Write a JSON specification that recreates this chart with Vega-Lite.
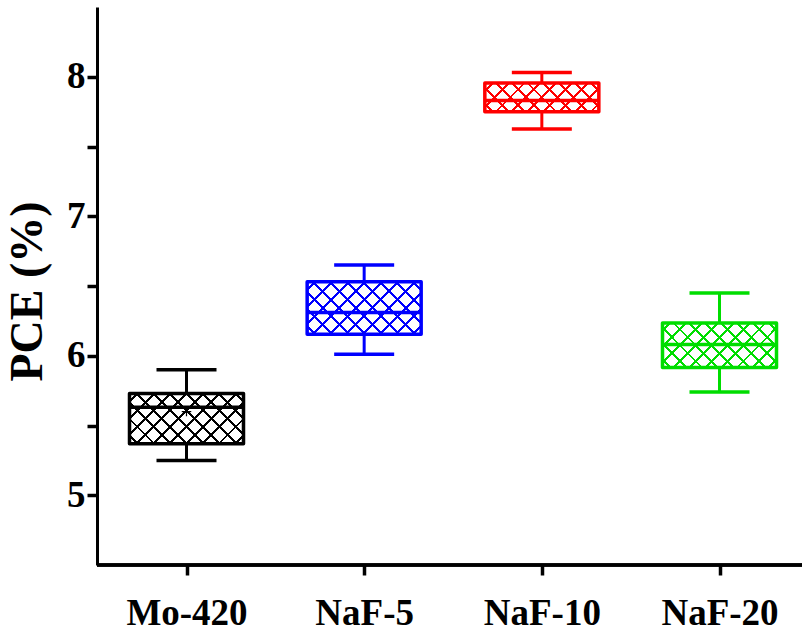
{
  "$schema": "https://vega.github.io/schema/vega-lite/v6.json",
  "width": 705,
  "height": 558,
  "autosize": {"type": "none"},
  "padding": {"left": 97, "top": 7, "right": 0, "bottom": 70},
  "background": "white",
  "config": {"view": {"stroke": null}, "font": "Liberation Serif"},
  "data": {"values": [
    {"cat": "Mo-420", "min": 5.25, "q1": 5.37, "median": 5.63, "q3": 5.73, "max": 5.9, "mean": 5.6},
    {"cat": "NaF-5", "min": 6.01, "q1": 6.155, "median": 6.31, "q3": 6.53, "max": 6.65},
    {"cat": "NaF-10", "min": 7.625, "q1": 7.75, "median": 7.83, "q3": 7.955, "max": 8.03},
    {"cat": "NaF-20", "min": 5.74, "q1": 5.915, "median": 6.08, "q3": 6.235, "max": 6.45}
  ]},
  "layer": [
    {
      "mark": {"type": "rule", "strokeWidth": 3, "opacity": 1},
      "encoding": {
        "x": {"field": "cat", "type": "nominal", "sort": null,
          "scale": {"type": "point", "domain": ["Mo-420", "NaF-5", "NaF-10", "NaF-20"], "range": [89.5, 622.5], "padding": 0},
          "axis": {"title": null, "domain": false, "grid": false, "labelAngle": 0, "labelFont": "Liberation Serif", "labelFontWeight": "bold", "labelFontSize": 37, "labelColor": "black", "labelBaseline": "alphabetic", "labelPadding": 49, "labelAlign": "center", "tickSize": 10, "tickWidth": 3.5, "tickColor": "black"}},
        "y": {"field": "min", "type": "quantitative",
          "scale": {"domain": [4.5, 8.5], "nice": false, "zero": false},
          "axis": {"title": "PCE (%)", "values": [5, 5.5, 6, 6.5, 7, 7.5, 8], "labelExpr": "datum.value % 1 ? '' : format(datum.value, 'd')", "grid": false, "domainWidth": 3, "domainColor": "black", "tickSize": 10, "tickWidth": 3.5, "tickColor": "black", "labelFont": "Liberation Serif", "labelFontWeight": "bold", "labelFontSize": 37, "labelColor": "black", "labelPadding": 2, "labelBaseline": "middle", "labelOverlap": false, "titleFont": "Liberation Serif", "titleFontWeight": "bold", "titleFontSize": 46, "titleColor": "black", "titleAngle": -90, "titleX": -70, "titleY": 284, "titleAlign": "center", "titleBaseline": "middle"}},
        "y2": {"field": "max"},
        "color": {"field": "cat", "type": "nominal", "scale": {"domain": ["Mo-420", "NaF-5", "NaF-10", "NaF-20"], "range": ["#000000", "#0000ff", "#ff0000", "#00dd00"]}, "legend": null}
      }
    },
    {
      "mark": {"type": "tick", "size": 60, "thickness": 3.5, "orient": "horizontal", "opacity": 1},
      "encoding": {
        "x": {"field": "cat", "type": "nominal", "sort": null},
        "y": {"field": "min", "type": "quantitative"},
        "color": {"field": "cat", "type": "nominal", "legend": null}
      }
    },
    {
      "mark": {"type": "tick", "size": 60, "thickness": 3.5, "orient": "horizontal", "opacity": 1},
      "encoding": {
        "x": {"field": "cat", "type": "nominal", "sort": null},
        "y": {"field": "max", "type": "quantitative"},
        "color": {"field": "cat", "type": "nominal", "legend": null}
      }
    },
    {
      "mark": {"type": "bar", "size": 114, "fill": "white", "orient": "vertical", "opacity": 1},
      "encoding": {
        "x": {"field": "cat", "type": "nominal", "sort": null},
        "y": {"field": "q1", "type": "quantitative"},
        "y2": {"field": "q3"}
      }
    },
    {
      "transform": [{"filter": "datum.cat === 'Mo-420'"}],
      "mark": {"type": "bar", "size": 114, "orient": "vertical", "opacity": 1, "fill": {"gradient": "linear", "x1": 0, "y1": 0, "x2": 1.2064, "y2": 0.5312, "stops": [
        {"offset": 0.041, "color": "rgba(255,255,255,0)"}, {"offset": 0.041, "color": "#000000"}, {"offset": 0.059, "color": "#000000"}, {"offset": 0.059, "color": "rgba(255,255,255,0)"},
        {"offset": 0.141, "color": "rgba(255,255,255,0)"}, {"offset": 0.141, "color": "#000000"}, {"offset": 0.159, "color": "#000000"}, {"offset": 0.159, "color": "rgba(255,255,255,0)"},
        {"offset": 0.241, "color": "rgba(255,255,255,0)"}, {"offset": 0.241, "color": "#000000"}, {"offset": 0.259, "color": "#000000"}, {"offset": 0.259, "color": "rgba(255,255,255,0)"},
        {"offset": 0.341, "color": "rgba(255,255,255,0)"}, {"offset": 0.341, "color": "#000000"}, {"offset": 0.359, "color": "#000000"}, {"offset": 0.359, "color": "rgba(255,255,255,0)"},
        {"offset": 0.441, "color": "rgba(255,255,255,0)"}, {"offset": 0.441, "color": "#000000"}, {"offset": 0.459, "color": "#000000"}, {"offset": 0.459, "color": "rgba(255,255,255,0)"},
        {"offset": 0.541, "color": "rgba(255,255,255,0)"}, {"offset": 0.541, "color": "#000000"}, {"offset": 0.559, "color": "#000000"}, {"offset": 0.559, "color": "rgba(255,255,255,0)"},
        {"offset": 0.641, "color": "rgba(255,255,255,0)"}, {"offset": 0.641, "color": "#000000"}, {"offset": 0.659, "color": "#000000"}, {"offset": 0.659, "color": "rgba(255,255,255,0)"},
        {"offset": 0.741, "color": "rgba(255,255,255,0)"}, {"offset": 0.741, "color": "#000000"}, {"offset": 0.759, "color": "#000000"}, {"offset": 0.759, "color": "rgba(255,255,255,0)"},
        {"offset": 0.841, "color": "rgba(255,255,255,0)"}, {"offset": 0.841, "color": "#000000"}, {"offset": 0.859, "color": "#000000"}, {"offset": 0.859, "color": "rgba(255,255,255,0)"},
        {"offset": 0.941, "color": "rgba(255,255,255,0)"}, {"offset": 0.941, "color": "#000000"}, {"offset": 0.959, "color": "#000000"}, {"offset": 0.959, "color": "rgba(255,255,255,0)"}
      ]}},
      "encoding": {
        "x": {"field": "cat", "type": "nominal", "sort": null},
        "y": {"field": "q1", "type": "quantitative"},
        "y2": {"field": "q3"}
      }
    },
    {
      "transform": [{"filter": "datum.cat === 'Mo-420'"}],
      "mark": {"type": "bar", "size": 114, "orient": "vertical", "opacity": 1, "fill": {"gradient": "linear", "x1": 0, "y1": 1, "x2": 1.2064, "y2": 0.4688, "stops": [
        {"offset": 0.041, "color": "rgba(255,255,255,0)"}, {"offset": 0.041, "color": "#000000"}, {"offset": 0.059, "color": "#000000"}, {"offset": 0.059, "color": "rgba(255,255,255,0)"},
        {"offset": 0.141, "color": "rgba(255,255,255,0)"}, {"offset": 0.141, "color": "#000000"}, {"offset": 0.159, "color": "#000000"}, {"offset": 0.159, "color": "rgba(255,255,255,0)"},
        {"offset": 0.241, "color": "rgba(255,255,255,0)"}, {"offset": 0.241, "color": "#000000"}, {"offset": 0.259, "color": "#000000"}, {"offset": 0.259, "color": "rgba(255,255,255,0)"},
        {"offset": 0.341, "color": "rgba(255,255,255,0)"}, {"offset": 0.341, "color": "#000000"}, {"offset": 0.359, "color": "#000000"}, {"offset": 0.359, "color": "rgba(255,255,255,0)"},
        {"offset": 0.441, "color": "rgba(255,255,255,0)"}, {"offset": 0.441, "color": "#000000"}, {"offset": 0.459, "color": "#000000"}, {"offset": 0.459, "color": "rgba(255,255,255,0)"},
        {"offset": 0.541, "color": "rgba(255,255,255,0)"}, {"offset": 0.541, "color": "#000000"}, {"offset": 0.559, "color": "#000000"}, {"offset": 0.559, "color": "rgba(255,255,255,0)"},
        {"offset": 0.641, "color": "rgba(255,255,255,0)"}, {"offset": 0.641, "color": "#000000"}, {"offset": 0.659, "color": "#000000"}, {"offset": 0.659, "color": "rgba(255,255,255,0)"},
        {"offset": 0.741, "color": "rgba(255,255,255,0)"}, {"offset": 0.741, "color": "#000000"}, {"offset": 0.759, "color": "#000000"}, {"offset": 0.759, "color": "rgba(255,255,255,0)"},
        {"offset": 0.841, "color": "rgba(255,255,255,0)"}, {"offset": 0.841, "color": "#000000"}, {"offset": 0.859, "color": "#000000"}, {"offset": 0.859, "color": "rgba(255,255,255,0)"},
        {"offset": 0.941, "color": "rgba(255,255,255,0)"}, {"offset": 0.941, "color": "#000000"}, {"offset": 0.959, "color": "#000000"}, {"offset": 0.959, "color": "rgba(255,255,255,0)"}
      ]}},
      "encoding": {
        "x": {"field": "cat", "type": "nominal", "sort": null},
        "y": {"field": "q1", "type": "quantitative"},
        "y2": {"field": "q3"}
      }
    },
    {
      "transform": [{"filter": "datum.cat === 'NaF-5'"}],
      "mark": {"type": "bar", "size": 114, "orient": "vertical", "opacity": 1, "fill": {"gradient": "linear", "x1": 0, "y1": 0, "x2": 1.2051, "y2": 0.5529, "stops": [
        {"offset": 0.041, "color": "rgba(255,255,255,0)"}, {"offset": 0.041, "color": "#0000ff"}, {"offset": 0.059, "color": "#0000ff"}, {"offset": 0.059, "color": "rgba(255,255,255,0)"},
        {"offset": 0.141, "color": "rgba(255,255,255,0)"}, {"offset": 0.141, "color": "#0000ff"}, {"offset": 0.159, "color": "#0000ff"}, {"offset": 0.159, "color": "rgba(255,255,255,0)"},
        {"offset": 0.241, "color": "rgba(255,255,255,0)"}, {"offset": 0.241, "color": "#0000ff"}, {"offset": 0.259, "color": "#0000ff"}, {"offset": 0.259, "color": "rgba(255,255,255,0)"},
        {"offset": 0.341, "color": "rgba(255,255,255,0)"}, {"offset": 0.341, "color": "#0000ff"}, {"offset": 0.359, "color": "#0000ff"}, {"offset": 0.359, "color": "rgba(255,255,255,0)"},
        {"offset": 0.441, "color": "rgba(255,255,255,0)"}, {"offset": 0.441, "color": "#0000ff"}, {"offset": 0.459, "color": "#0000ff"}, {"offset": 0.459, "color": "rgba(255,255,255,0)"},
        {"offset": 0.541, "color": "rgba(255,255,255,0)"}, {"offset": 0.541, "color": "#0000ff"}, {"offset": 0.559, "color": "#0000ff"}, {"offset": 0.559, "color": "rgba(255,255,255,0)"},
        {"offset": 0.641, "color": "rgba(255,255,255,0)"}, {"offset": 0.641, "color": "#0000ff"}, {"offset": 0.659, "color": "#0000ff"}, {"offset": 0.659, "color": "rgba(255,255,255,0)"},
        {"offset": 0.741, "color": "rgba(255,255,255,0)"}, {"offset": 0.741, "color": "#0000ff"}, {"offset": 0.759, "color": "#0000ff"}, {"offset": 0.759, "color": "rgba(255,255,255,0)"},
        {"offset": 0.841, "color": "rgba(255,255,255,0)"}, {"offset": 0.841, "color": "#0000ff"}, {"offset": 0.859, "color": "#0000ff"}, {"offset": 0.859, "color": "rgba(255,255,255,0)"},
        {"offset": 0.941, "color": "rgba(255,255,255,0)"}, {"offset": 0.941, "color": "#0000ff"}, {"offset": 0.959, "color": "#0000ff"}, {"offset": 0.959, "color": "rgba(255,255,255,0)"}
      ]}},
      "encoding": {
        "x": {"field": "cat", "type": "nominal", "sort": null},
        "y": {"field": "q1", "type": "quantitative"},
        "y2": {"field": "q3"}
      }
    },
    {
      "transform": [{"filter": "datum.cat === 'NaF-5'"}],
      "mark": {"type": "bar", "size": 114, "orient": "vertical", "opacity": 1, "fill": {"gradient": "linear", "x1": 0, "y1": 1, "x2": 1.2051, "y2": 0.4471, "stops": [
        {"offset": 0.041, "color": "rgba(255,255,255,0)"}, {"offset": 0.041, "color": "#0000ff"}, {"offset": 0.059, "color": "#0000ff"}, {"offset": 0.059, "color": "rgba(255,255,255,0)"},
        {"offset": 0.141, "color": "rgba(255,255,255,0)"}, {"offset": 0.141, "color": "#0000ff"}, {"offset": 0.159, "color": "#0000ff"}, {"offset": 0.159, "color": "rgba(255,255,255,0)"},
        {"offset": 0.241, "color": "rgba(255,255,255,0)"}, {"offset": 0.241, "color": "#0000ff"}, {"offset": 0.259, "color": "#0000ff"}, {"offset": 0.259, "color": "rgba(255,255,255,0)"},
        {"offset": 0.341, "color": "rgba(255,255,255,0)"}, {"offset": 0.341, "color": "#0000ff"}, {"offset": 0.359, "color": "#0000ff"}, {"offset": 0.359, "color": "rgba(255,255,255,0)"},
        {"offset": 0.441, "color": "rgba(255,255,255,0)"}, {"offset": 0.441, "color": "#0000ff"}, {"offset": 0.459, "color": "#0000ff"}, {"offset": 0.459, "color": "rgba(255,255,255,0)"},
        {"offset": 0.541, "color": "rgba(255,255,255,0)"}, {"offset": 0.541, "color": "#0000ff"}, {"offset": 0.559, "color": "#0000ff"}, {"offset": 0.559, "color": "rgba(255,255,255,0)"},
        {"offset": 0.641, "color": "rgba(255,255,255,0)"}, {"offset": 0.641, "color": "#0000ff"}, {"offset": 0.659, "color": "#0000ff"}, {"offset": 0.659, "color": "rgba(255,255,255,0)"},
        {"offset": 0.741, "color": "rgba(255,255,255,0)"}, {"offset": 0.741, "color": "#0000ff"}, {"offset": 0.759, "color": "#0000ff"}, {"offset": 0.759, "color": "rgba(255,255,255,0)"},
        {"offset": 0.841, "color": "rgba(255,255,255,0)"}, {"offset": 0.841, "color": "#0000ff"}, {"offset": 0.859, "color": "#0000ff"}, {"offset": 0.859, "color": "rgba(255,255,255,0)"},
        {"offset": 0.941, "color": "rgba(255,255,255,0)"}, {"offset": 0.941, "color": "#0000ff"}, {"offset": 0.959, "color": "#0000ff"}, {"offset": 0.959, "color": "rgba(255,255,255,0)"}
      ]}},
      "encoding": {
        "x": {"field": "cat", "type": "nominal", "sort": null},
        "y": {"field": "q1", "type": "quantitative"},
        "y2": {"field": "q3"}
      }
    },
    {
      "transform": [{"filter": "datum.cat === 'NaF-10'"}],
      "mark": {"type": "bar", "size": 114, "orient": "vertical", "opacity": 1, "fill": {"gradient": "linear", "x1": 0, "y1": 0, "x2": 1.1768, "y2": 0.2952, "stops": [
        {"offset": 0.046, "color": "rgba(255,255,255,0)"}, {"offset": 0.046, "color": "#ff0000"}, {"offset": 0.066, "color": "#ff0000"}, {"offset": 0.066, "color": "rgba(255,255,255,0)"},
        {"offset": 0.157, "color": "rgba(255,255,255,0)"}, {"offset": 0.157, "color": "#ff0000"}, {"offset": 0.177, "color": "#ff0000"}, {"offset": 0.177, "color": "rgba(255,255,255,0)"},
        {"offset": 0.268, "color": "rgba(255,255,255,0)"}, {"offset": 0.268, "color": "#ff0000"}, {"offset": 0.288, "color": "#ff0000"}, {"offset": 0.288, "color": "rgba(255,255,255,0)"},
        {"offset": 0.379, "color": "rgba(255,255,255,0)"}, {"offset": 0.379, "color": "#ff0000"}, {"offset": 0.399, "color": "#ff0000"}, {"offset": 0.399, "color": "rgba(255,255,255,0)"},
        {"offset": 0.49, "color": "rgba(255,255,255,0)"}, {"offset": 0.49, "color": "#ff0000"}, {"offset": 0.51, "color": "#ff0000"}, {"offset": 0.51, "color": "rgba(255,255,255,0)"},
        {"offset": 0.601, "color": "rgba(255,255,255,0)"}, {"offset": 0.601, "color": "#ff0000"}, {"offset": 0.621, "color": "#ff0000"}, {"offset": 0.621, "color": "rgba(255,255,255,0)"},
        {"offset": 0.712, "color": "rgba(255,255,255,0)"}, {"offset": 0.712, "color": "#ff0000"}, {"offset": 0.732, "color": "#ff0000"}, {"offset": 0.732, "color": "rgba(255,255,255,0)"},
        {"offset": 0.823, "color": "rgba(255,255,255,0)"}, {"offset": 0.823, "color": "#ff0000"}, {"offset": 0.843, "color": "#ff0000"}, {"offset": 0.843, "color": "rgba(255,255,255,0)"},
        {"offset": 0.934, "color": "rgba(255,255,255,0)"}, {"offset": 0.934, "color": "#ff0000"}, {"offset": 0.954, "color": "#ff0000"}, {"offset": 0.954, "color": "rgba(255,255,255,0)"}
      ]}},
      "encoding": {
        "x": {"field": "cat", "type": "nominal", "sort": null},
        "y": {"field": "q1", "type": "quantitative"},
        "y2": {"field": "q3"}
      }
    },
    {
      "transform": [{"filter": "datum.cat === 'NaF-10'"}],
      "mark": {"type": "bar", "size": 114, "orient": "vertical", "opacity": 1, "fill": {"gradient": "linear", "x1": 0, "y1": 1, "x2": 1.1768, "y2": 0.7048, "stops": [
        {"offset": 0.046, "color": "rgba(255,255,255,0)"}, {"offset": 0.046, "color": "#ff0000"}, {"offset": 0.066, "color": "#ff0000"}, {"offset": 0.066, "color": "rgba(255,255,255,0)"},
        {"offset": 0.157, "color": "rgba(255,255,255,0)"}, {"offset": 0.157, "color": "#ff0000"}, {"offset": 0.177, "color": "#ff0000"}, {"offset": 0.177, "color": "rgba(255,255,255,0)"},
        {"offset": 0.268, "color": "rgba(255,255,255,0)"}, {"offset": 0.268, "color": "#ff0000"}, {"offset": 0.288, "color": "#ff0000"}, {"offset": 0.288, "color": "rgba(255,255,255,0)"},
        {"offset": 0.379, "color": "rgba(255,255,255,0)"}, {"offset": 0.379, "color": "#ff0000"}, {"offset": 0.399, "color": "#ff0000"}, {"offset": 0.399, "color": "rgba(255,255,255,0)"},
        {"offset": 0.49, "color": "rgba(255,255,255,0)"}, {"offset": 0.49, "color": "#ff0000"}, {"offset": 0.51, "color": "#ff0000"}, {"offset": 0.51, "color": "rgba(255,255,255,0)"},
        {"offset": 0.601, "color": "rgba(255,255,255,0)"}, {"offset": 0.601, "color": "#ff0000"}, {"offset": 0.621, "color": "#ff0000"}, {"offset": 0.621, "color": "rgba(255,255,255,0)"},
        {"offset": 0.712, "color": "rgba(255,255,255,0)"}, {"offset": 0.712, "color": "#ff0000"}, {"offset": 0.732, "color": "#ff0000"}, {"offset": 0.732, "color": "rgba(255,255,255,0)"},
        {"offset": 0.823, "color": "rgba(255,255,255,0)"}, {"offset": 0.823, "color": "#ff0000"}, {"offset": 0.843, "color": "#ff0000"}, {"offset": 0.843, "color": "rgba(255,255,255,0)"},
        {"offset": 0.934, "color": "rgba(255,255,255,0)"}, {"offset": 0.934, "color": "#ff0000"}, {"offset": 0.954, "color": "#ff0000"}, {"offset": 0.954, "color": "rgba(255,255,255,0)"}
      ]}},
      "encoding": {
        "x": {"field": "cat", "type": "nominal", "sort": null},
        "y": {"field": "q1", "type": "quantitative"},
        "y2": {"field": "q3"}
      }
    },
    {
      "transform": [{"filter": "datum.cat === 'NaF-20'"}],
      "mark": {"type": "bar", "size": 114, "orient": "vertical", "opacity": 1, "fill": {"gradient": "linear", "x1": 0, "y1": 0, "x2": 1.2066, "y2": 0.472, "stops": [
        {"offset": 0.041, "color": "rgba(255,255,255,0)"}, {"offset": 0.041, "color": "#00dd00"}, {"offset": 0.059, "color": "#00dd00"}, {"offset": 0.059, "color": "rgba(255,255,255,0)"},
        {"offset": 0.141, "color": "rgba(255,255,255,0)"}, {"offset": 0.141, "color": "#00dd00"}, {"offset": 0.159, "color": "#00dd00"}, {"offset": 0.159, "color": "rgba(255,255,255,0)"},
        {"offset": 0.241, "color": "rgba(255,255,255,0)"}, {"offset": 0.241, "color": "#00dd00"}, {"offset": 0.259, "color": "#00dd00"}, {"offset": 0.259, "color": "rgba(255,255,255,0)"},
        {"offset": 0.341, "color": "rgba(255,255,255,0)"}, {"offset": 0.341, "color": "#00dd00"}, {"offset": 0.359, "color": "#00dd00"}, {"offset": 0.359, "color": "rgba(255,255,255,0)"},
        {"offset": 0.441, "color": "rgba(255,255,255,0)"}, {"offset": 0.441, "color": "#00dd00"}, {"offset": 0.459, "color": "#00dd00"}, {"offset": 0.459, "color": "rgba(255,255,255,0)"},
        {"offset": 0.541, "color": "rgba(255,255,255,0)"}, {"offset": 0.541, "color": "#00dd00"}, {"offset": 0.559, "color": "#00dd00"}, {"offset": 0.559, "color": "rgba(255,255,255,0)"},
        {"offset": 0.641, "color": "rgba(255,255,255,0)"}, {"offset": 0.641, "color": "#00dd00"}, {"offset": 0.659, "color": "#00dd00"}, {"offset": 0.659, "color": "rgba(255,255,255,0)"},
        {"offset": 0.741, "color": "rgba(255,255,255,0)"}, {"offset": 0.741, "color": "#00dd00"}, {"offset": 0.759, "color": "#00dd00"}, {"offset": 0.759, "color": "rgba(255,255,255,0)"},
        {"offset": 0.841, "color": "rgba(255,255,255,0)"}, {"offset": 0.841, "color": "#00dd00"}, {"offset": 0.859, "color": "#00dd00"}, {"offset": 0.859, "color": "rgba(255,255,255,0)"},
        {"offset": 0.941, "color": "rgba(255,255,255,0)"}, {"offset": 0.941, "color": "#00dd00"}, {"offset": 0.959, "color": "#00dd00"}, {"offset": 0.959, "color": "rgba(255,255,255,0)"}
      ]}},
      "encoding": {
        "x": {"field": "cat", "type": "nominal", "sort": null},
        "y": {"field": "q1", "type": "quantitative"},
        "y2": {"field": "q3"}
      }
    },
    {
      "transform": [{"filter": "datum.cat === 'NaF-20'"}],
      "mark": {"type": "bar", "size": 114, "orient": "vertical", "opacity": 1, "fill": {"gradient": "linear", "x1": 0, "y1": 1, "x2": 1.2066, "y2": 0.528, "stops": [
        {"offset": 0.041, "color": "rgba(255,255,255,0)"}, {"offset": 0.041, "color": "#00dd00"}, {"offset": 0.059, "color": "#00dd00"}, {"offset": 0.059, "color": "rgba(255,255,255,0)"},
        {"offset": 0.141, "color": "rgba(255,255,255,0)"}, {"offset": 0.141, "color": "#00dd00"}, {"offset": 0.159, "color": "#00dd00"}, {"offset": 0.159, "color": "rgba(255,255,255,0)"},
        {"offset": 0.241, "color": "rgba(255,255,255,0)"}, {"offset": 0.241, "color": "#00dd00"}, {"offset": 0.259, "color": "#00dd00"}, {"offset": 0.259, "color": "rgba(255,255,255,0)"},
        {"offset": 0.341, "color": "rgba(255,255,255,0)"}, {"offset": 0.341, "color": "#00dd00"}, {"offset": 0.359, "color": "#00dd00"}, {"offset": 0.359, "color": "rgba(255,255,255,0)"},
        {"offset": 0.441, "color": "rgba(255,255,255,0)"}, {"offset": 0.441, "color": "#00dd00"}, {"offset": 0.459, "color": "#00dd00"}, {"offset": 0.459, "color": "rgba(255,255,255,0)"},
        {"offset": 0.541, "color": "rgba(255,255,255,0)"}, {"offset": 0.541, "color": "#00dd00"}, {"offset": 0.559, "color": "#00dd00"}, {"offset": 0.559, "color": "rgba(255,255,255,0)"},
        {"offset": 0.641, "color": "rgba(255,255,255,0)"}, {"offset": 0.641, "color": "#00dd00"}, {"offset": 0.659, "color": "#00dd00"}, {"offset": 0.659, "color": "rgba(255,255,255,0)"},
        {"offset": 0.741, "color": "rgba(255,255,255,0)"}, {"offset": 0.741, "color": "#00dd00"}, {"offset": 0.759, "color": "#00dd00"}, {"offset": 0.759, "color": "rgba(255,255,255,0)"},
        {"offset": 0.841, "color": "rgba(255,255,255,0)"}, {"offset": 0.841, "color": "#00dd00"}, {"offset": 0.859, "color": "#00dd00"}, {"offset": 0.859, "color": "rgba(255,255,255,0)"},
        {"offset": 0.941, "color": "rgba(255,255,255,0)"}, {"offset": 0.941, "color": "#00dd00"}, {"offset": 0.959, "color": "#00dd00"}, {"offset": 0.959, "color": "rgba(255,255,255,0)"}
      ]}},
      "encoding": {
        "x": {"field": "cat", "type": "nominal", "sort": null},
        "y": {"field": "q1", "type": "quantitative"},
        "y2": {"field": "q3"}
      }
    },
    {
      "mark": {"type": "bar", "size": 114, "orient": "vertical", "fillOpacity": 0, "strokeOpacity": 1, "strokeWidth": 3.5, "strokeJoin": "round"},
      "encoding": {
        "x": {"field": "cat", "type": "nominal", "sort": null},
        "y": {"field": "q1", "type": "quantitative"},
        "y2": {"field": "q3"},
        "stroke": {"field": "cat", "type": "nominal", "scale": {"domain": ["Mo-420", "NaF-5", "NaF-10", "NaF-20"], "range": ["#000000", "#0000ff", "#ff0000", "#00dd00"]}, "legend": null}
      }
    },
    {
      "mark": {"type": "tick", "size": 114, "thickness": 3.5, "orient": "horizontal", "opacity": 1},
      "encoding": {
        "x": {"field": "cat", "type": "nominal", "sort": null},
        "y": {"field": "median", "type": "quantitative"},
        "color": {"field": "cat", "type": "nominal", "legend": null}
      }
    },
    {
      "mark": {"type": "point", "shape": "M-1,0H1M0,-1V1", "size": 90, "filled": false, "strokeWidth": 1.2, "color": "#000000", "opacity": 1},
      "encoding": {
        "x": {"field": "cat", "type": "nominal", "sort": null},
        "y": {"field": "mean", "type": "quantitative"}
      }
    },
    {
      "mark": {"type": "rule", "strokeWidth": 3, "color": "#000000", "opacity": 1},
      "encoding": {"y": {"datum": 4.5}}
    }
  ]
}
